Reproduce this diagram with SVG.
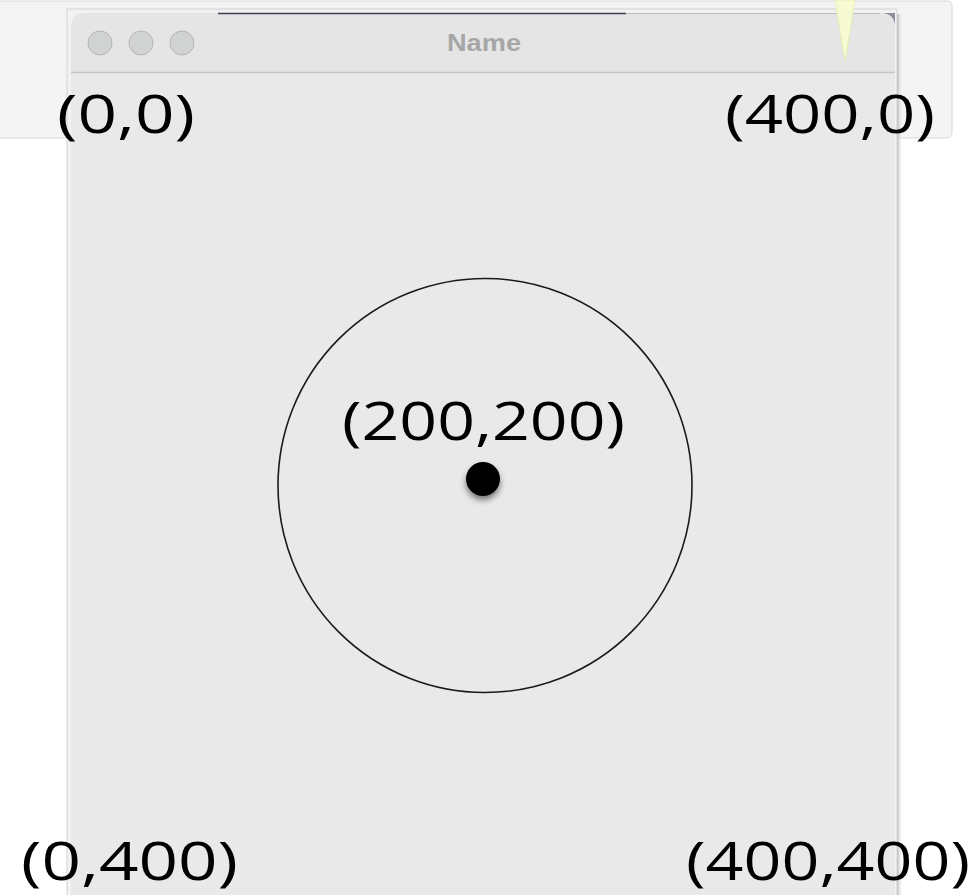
<svg xmlns="http://www.w3.org/2000/svg" width="976" height="895" viewBox="0 0 976 895">
<defs>
<style>
.lbl{font-family:"Open Sans","DejaVu Sans",sans-serif;font-size:53px;fill:#000}
.light{fill:#d1d3d3;stroke:#b4b6b6;stroke-width:1}
</style>
<linearGradient id="shadowR" x1="0" x2="1" y1="0" y2="0">
<stop offset="0" stop-color="#9a9a9a"/>
<stop offset="1" stop-color="#ffffff" stop-opacity="0"/>
</linearGradient>
<filter id="ds" x="-50%" y="-50%" width="200%" height="200%">
<feGaussianBlur in="SourceAlpha" stdDeviation="3"/>
<feOffset dy="4"/>
<feComponentTransfer><feFuncA type="linear" slope="0.5"/></feComponentTransfer>
<feMerge><feMergeNode/><feMergeNode in="SourceGraphic"/></feMerge>
</filter>
</defs>
<rect width="976" height="895" fill="#ffffff"/>
<!-- background panel -->
<rect x="-6" y="1" width="958" height="137" rx="5" fill="#f4f4f4" stroke="#d8d8d8"/>
<!-- window -->
<g id="window">
<rect x="896" y="14" width="7" height="881" fill="url(#shadowR)"/>
<rect x="67" y="9" width="830" height="892" fill="#f2f2f2" stroke="#d2d2d2"/>
<path d="M872 13 L895 13 L895 36 Z" fill="#8c909c"/>
<path d="M71 895 L71 28 Q71 13 86 13 L880 13 Q895 13 895 28 L895 895 Z" fill="#e9e9e9"/>
<path d="M71 72 L71 28 Q71 13 86 13 L880 13 Q895 13 895 28 L895 72 Z" fill="#e5e5e5"/>
<line x1="218" y1="13.5" x2="626" y2="13.5" stroke="#39404d" stroke-width="1.5"/>
<line x1="626" y1="13.5" x2="880" y2="13.5" stroke="#b9bcc2" stroke-width="1"/>
<line x1="71" y1="72.5" x2="895" y2="72.5" stroke="#c6c6c6" stroke-width="1.5"/>
<circle class="light" cx="100" cy="43" r="12"/>
<circle class="light" cx="141" cy="43" r="12"/>
<circle class="light" cx="182" cy="43" r="12"/>
<text x="484" y="51" text-anchor="middle" font-family="'Liberation Sans',Arial,sans-serif" font-weight="bold" font-size="24" fill="#a6a6a6" textLength="74" lengthAdjust="spacingAndGlyphs">Name</text>
</g>
<!-- yellow pointer -->
<path d="M835 0 L855 0 L845 62 Z" fill="#f7fbd2" stroke="#e6ebb0" stroke-width="0.8"/>
<!-- circle -->
<g id="circle">
<circle cx="485" cy="485.5" r="207" fill="none" stroke="#1a1a1a" stroke-width="1.6"/>
</g>
<g id="center-dot">
<circle cx="483" cy="479" r="17" fill="#000" filter="url(#ds)"/>
</g>
<!-- labels -->
<g id="labels">
<text class="lbl" x="57" y="133" textLength="138" lengthAdjust="spacingAndGlyphs">(0,0)</text>
<text class="lbl" x="725" y="133" textLength="210" lengthAdjust="spacingAndGlyphs">(400,0)</text>
<text class="lbl" x="342" y="440" textLength="283" lengthAdjust="spacingAndGlyphs">(200,200)</text>
<text class="lbl" x="21" y="880" textLength="217" lengthAdjust="spacingAndGlyphs">(0,400)</text>
<text class="lbl" x="686" y="880" textLength="284" lengthAdjust="spacingAndGlyphs">(400,400)</text>
</g>
</svg>
